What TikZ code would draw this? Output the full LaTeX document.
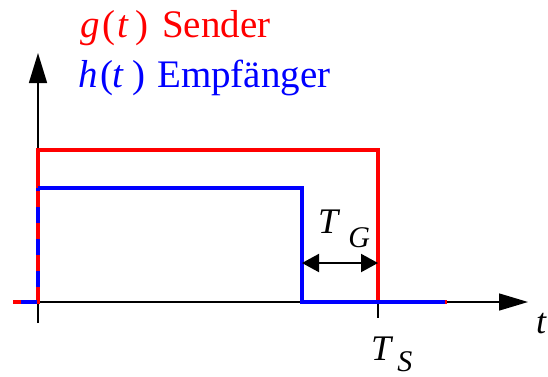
\documentclass[tikz,border=0pt]{standalone}
\usepackage{fontspec}
\setmainfont{Liberation Serif}
\usetikzlibrary{arrows.meta}
\definecolor{sred}{RGB}{255,0,0}
\definecolor{sblue}{RGB}{0,0,255}
\begin{document}
\begin{tikzpicture}[x=1pt,y=-1pt,
  lbl/.style={inner sep=0pt,anchor=base west,font=\fontsize{39}{42}\selectfont},
  sym/.style={inner sep=0pt,anchor=base west,font=\fontsize{36}{38}\selectfont}]
  \useasboundingbox (0,0) rectangle (548,376);
  \coordinate (O) at (38,302);
  \coordinate (Ytop) at (38,53);
  \coordinate (Ybot) at (38,323);
  \coordinate (Xend) at (528,302);
  \coordinate (L) at (13,302);
  \coordinate (GA) at (38,150);
  \coordinate (GB) at (378,150);
  \coordinate (GC) at (378,302);
  \coordinate (GD) at (447,302);
  \coordinate (HA) at (38,188);
  \coordinate (HB) at (302,188);
  \coordinate (HC) at (302,302);
  \coordinate (HD) at (445,302);
  \coordinate (Tick) at (378,318);
  \coordinate (TGl) at (302,263);
  \coordinate (TGr) at (378,263);
  % axes
  \draw[line width=1.5pt,-{Triangle[length=30pt,width=18pt]}] (Ybot) -- (Ytop);
  \draw[line width=1.5pt,-{Triangle[length=29pt,width=17pt]}] (O) -- (Xend);
  \draw[line width=1.5pt] (GC) -- (Tick);
  % signals
  \draw[sred,line width=4pt] (L) -- (O) -- (GA) -- (GB) -- (GC) -- (GD);
  \draw[sblue,line width=4pt,dash pattern=on 16pt off 16pt,dash phase=24pt] (L) -- (O) -- (HA);
  \draw[sblue,line width=4pt] (HA) -- (HB) -- (HC) -- (HD);
  % guard interval
  \draw[line width=2pt,{Triangle[length=17pt,width=18pt]}-{Triangle[length=17pt,width=18pt]}] (TGl) -- (TGr);
  % labels
  \node[lbl,text=sred] (g) at (80,37) {\textit{g}\kern3pt(\kern2pt\textit{t}\kern6pt)\kern14pt Sender};
  \node[lbl,text=sblue] (h) at (78,87) {\textit{h}\kern3pt(\kern-1pt\textit{t}\kern8pt)\kern12pt Empfänger};
  \node[sym] (ts) at (371,360) {\textit{T}\kern4pt\raisebox{-11pt}{\fontsize{30}{30}\selectfont\textit{S}}};
  \node[sym] (tg) at (318,233) {\textit{T}\kern8pt\raisebox{-14pt}{\fontsize{30}{30}\selectfont\textit{G}}};
  \node[sym] (t) at (536,333) {\textit{t}};
\end{tikzpicture}
\end{document}
